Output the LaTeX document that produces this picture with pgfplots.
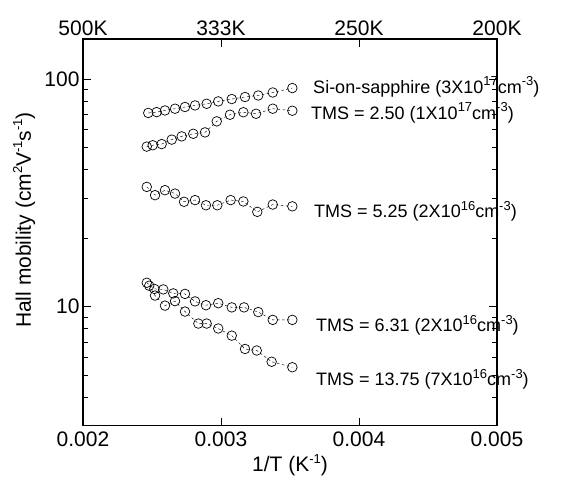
\documentclass[border=0pt]{standalone}
\usepackage{pgfplots}
\pgfplotsset{compat=1.18}
\usepackage{fontspec}
\setmainfont{Liberation Sans}
\newcommand{\sups}[1]{\raisebox{0.42em}{\fontsize{13}{13}\selectfont #1}}
\begin{document}
\begin{tikzpicture}
\pgfplotsset{
  series/.style={black, dash pattern=on 2.5pt off 2.5pt, line width=0.45pt,
    mark=o, mark size=4.8pt, mark options={solid, line width=0.7pt, black}},
}
\tikzset{ann/.style={anchor=west, inner sep=0pt, font=\fontsize{18}{20}\selectfont}}
\begin{axis}[
  at={(0,0)}, anchor=south west,
  scale only axis, width=414pt, height=386.7pt,
  xmin=0.002, xmax=0.005, ymode=log, ymin=3, ymax=150,
  scaled x ticks=false,
  xtick={0.002,0.003,0.004,0.005}, xticklabels={0.002,0.003,0.004,0.005},
  ytick={10,100}, yticklabels={10,100},
  minor ytick={3,4,5,6,7,8,9,20,30,40,50,60,70,80,90},
  tick align=inside, xtick pos=both, ytick pos=both,
  major tick length=8pt, minor tick length=5pt,
  axis line style={line width=1.3pt},
  tick style={line width=0.6pt, black},
  /pgf/number format/assume math mode=true,
  ticklabel style={font=\fontsize{21}{24}\selectfont},
  xticklabel style={yshift=-3pt},
  xlabel={1/T (K\sups{-1})},
  ylabel={Hall mobility (cm\sups{2}V\sups{-1}s\sups{-1})},
  label style={font=\fontsize{21}{24}\selectfont},
  xlabel style={at={(axis description cs:0.5,-0.102)}, anchor=center},
  ylabel style={at={(axis description cs:-0.142,0.532)}, anchor=center},
  clip=false,
]
% Si-on-sapphire
\addplot[series] coordinates {
(0.002473,71.0) (0.002534,71.6) (0.002594,72.8) (0.002667,74.1) (0.002739,75.4)
(0.002812,76.6) (0.002896,77.9) (0.002980,79.8) (0.003078,81.7) (0.003174,83.4)
(0.003270,84.7) (0.003375,87.3) (0.003517,91.3)};
% TMS = 2.50
\addplot[series] coordinates {
(0.002462,50.5) (0.002505,51.2) (0.002570,51.8) (0.002643,54.2) (0.002715,56.0)
(0.002799,57.5) (0.002884,58.3) (0.002969,65.2) (0.003065,69.7) (0.003162,71.5)
(0.003254,70.4) (0.003375,74.1) (0.003517,72.6)};
% TMS = 5.25
\addplot[series] coordinates {
(0.002462,33.6) (0.002522,30.9) (0.002594,32.5) (0.002667,31.4) (0.002732,28.9)
(0.002812,29.4) (0.002891,27.9) (0.002973,27.9) (0.003070,29.4) (0.003162,29.0)
(0.003263,26.1) (0.003375,28.1) (0.003517,27.6)};
% TMS = 6.31
\addplot[series] coordinates {
(0.002462,12.74) (0.002517,11.97) (0.002582,11.91) (0.002654,11.44) (0.002739,11.38)
(0.002812,10.55) (0.002891,10.15) (0.002980,10.36) (0.003078,9.93) (0.003167,9.93)
(0.003270,9.47) (0.003375,8.75) (0.003517,8.75)};
% TMS = 13.75
\addplot[series] coordinates {
(0.002480,12.36) (0.002522,11.19) (0.002594,10.11) (0.002667,10.58) (0.002739,9.52)
(0.002836,8.43) (0.002896,8.43) (0.002980,8.02) (0.003078,7.46) (0.003174,6.52)
(0.003259,6.42) (0.003367,5.73) (0.003517,5.42)};
\node[ann] at (axis cs:0.003667,92.5) {Si-on-sapphire (3X10\sups{17}cm\sups{-3})};
\node[ann] at (axis cs:0.003652,71.2) {TMS = 2.50 (1X10\sups{17}cm\sups{-3})};
\node[ann] at (axis cs:0.003674,26.2) {TMS = 5.25 (2X10\sups{16}cm\sups{-3})};
\node[ann] at (axis cs:0.003688,8.28) {TMS = 6.31 (2X10\sups{16}cm\sups{-3})};
\node[ann] at (axis cs:0.003688,4.80) {TMS = 13.75 (7X10\sups{16}cm\sups{-3})};
\end{axis}
\begin{axis}[
  at={(0,0)}, anchor=south west,
  scale only axis, width=414pt, height=386.7pt,
  xmin=0.002, xmax=0.005, ymin=0, ymax=1,
  scaled x ticks=false,
  axis x line*=top, axis y line=none,
  axis line style={draw=none},
  xtick={0.002,0.003,0.004,0.005}, xticklabels={500K,333K,250K,200K},
  major tick length=0pt,
  /pgf/number format/assume math mode=true,
  ticklabel style={font=\fontsize{21}{24}\selectfont},
]
\end{axis}
\pgfresetboundingbox
\path (-83pt,-63.3pt) rectangle (502pt,425.7pt);
\end{tikzpicture}
\end{document}
